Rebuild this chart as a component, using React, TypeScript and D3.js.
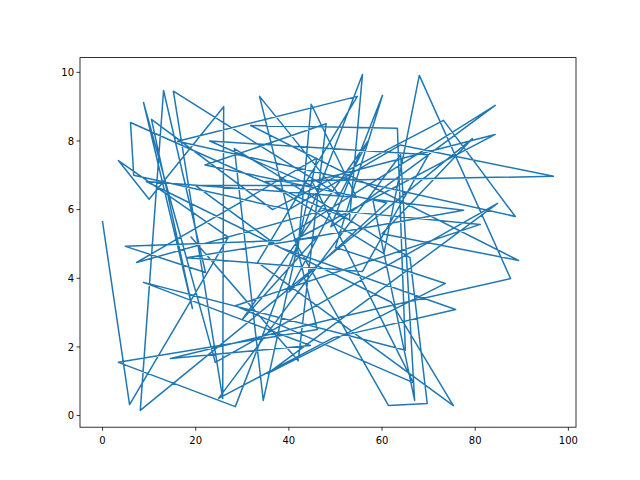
import React from "react";
import * as d3 from "d3";

const xs: number[] = [0,5.8,27,3.4,10,26,25.8,15.2,51,33.7,46.1,3.4,28.5,55.8,53,6.0,6.7,40,63.9,96.8,35,60.4,68,87.6,52,14.6,44.6,8.8,65,63.3,31.8,89.3,60,79.4,8.1,13.1,22.1,4.9,38,84.3,49,60.1,50,73.6,35.4,84.8,24.2,8.8,19.3,10.5,36.5,73.2,88.6,16.1,54.7,33.3,75.3,62,9.4,54.5,44.8,42,61.4,69.7,66,28.3,34.5,46,7.3,48,81.1,28.5,66.7,45,84.3,41,77.5,58,67,64,24.9,49.6,75.8,38,20,45,23,70,55.8,18,46,30,57,40,61,22,48,42,19];
const ys: number[] = [5.65,0.32,5.2,7.43,6.3,9.0,0.5,9.45,6.4,9.3,2.51,1.55,0.26,9.94,5.7,8.54,7.0,6.0,7.88,6.97,6.82,4.72,9.91,3.99,2.9,1.66,2.04,3.88,1.9,8.37,8.45,4.52,5.3,8.07,0.15,9.47,4.17,4.93,5.1,9.04,5.5,9.33,4.9,3.85,1.22,6.18,1.55,9.12,3.12,8.63,6.0,8.6,5.8,7.99,9.3,4.46,0.29,3.3,6.82,6.36,9.07,4.9,0.29,0.35,4.6,7.78,0.44,7.5,4.46,6.0,5.57,3.2,0.96,6.82,8.19,5.1,5.98,6.3,0.44,7.6,0.5,2.27,3.09,4.9,6.7,6.7,8.0,7.6,4.2,4.6,5.2,2.8,8.0,3.6,6.2,7.3,8.5,1.6,5.2];
const xTicks = [0, 20, 40, 60, 80, 100];
const yTicks = [0, 2, 4, 6, 8, 10];

export default function App() {
  const W = 640, H = 480;
  const m = { l: 80, r: 64, t: 57.6, b: 52.8 };
  const iw = W - m.l - m.r, ih = H - m.t - m.b;
  const xe = d3.extent(xs) as [number, number];
  const ye = d3.extent(ys) as [number, number];
  const xp = (xe[1] - xe[0]) * 0.05, yp = (ye[1] - ye[0]) * 0.05;
  const x = d3.scaleLinear().domain([xe[0] - xp, xe[1] + xp]).range([m.l, m.l + iw]);
  const y = d3.scaleLinear().domain([ye[0] - yp, ye[1] + yp]).range([m.t + ih, m.t]);
  const pts: [number, number][] = xs.map((v, i) => [v, ys[i]]);
  const line = d3.line<[number, number]>().x(d => x(d[0])).y(d => y(d[1]));
  const font = "DejaVu Sans";
  return (
    <svg width={W} height={H} style={{ position: "absolute", left: 0, top: 0, background: "#fff" }}>
      <path d={line(pts) || ""} fill="none" stroke="#1f77b4" strokeWidth={1.5} strokeLinejoin="round" strokeLinecap="square" />
      <rect x={m.l} y={m.t} width={iw} height={ih} fill="none" stroke="#000" strokeWidth={0.8} />
      {xTicks.map(t => (
        <g key={"x" + t}>
          <line x1={x(t)} x2={x(t)} y1={m.t + ih} y2={m.t + ih + 3.5} stroke="#000" strokeWidth={0.8} />
          <text x={x(t)} y={m.t + ih + 17} textAnchor="middle" fontFamily={font} fontSize={10}>{t}</text>
        </g>
      ))}
      {yTicks.map(t => (
        <g key={"y" + t}>
          <line x1={m.l - 3.5} x2={m.l} y1={y(t)} y2={y(t)} stroke="#000" strokeWidth={0.8} />
          <text x={m.l - 6} y={y(t) + 3.6} textAnchor="end" fontFamily={font} fontSize={10}>{t}</text>
        </g>
      ))}
    </svg>
  );
}
